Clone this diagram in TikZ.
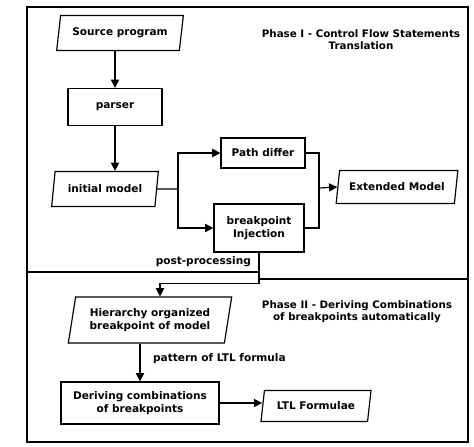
\documentclass[tikz,border=0pt]{standalone}
\usepackage{fontspec}
\setmainfont{DejaVu Sans}
\usetikzlibrary{arrows.meta, shapes.geometric}

\tikzset{
    proc/.style={draw, line width=1pt, rectangle, align=center, inner sep=2pt},
    data/.style={draw, line width=1pt, trapezium, trapezium left angle=75,
        trapezium right angle=105, trapezium stretches body, align=center, inner sep=2pt},
    flow/.style={line width=1pt, -{Triangle[length=7pt, width=7pt]}},
    line/.style={line width=1pt},
    lbl/.style={font=\fontsize{8.8}{10.5}\selectfont\bfseries},
}

\begin{document}
\begin{tikzpicture}[x=0.03cm, y=-0.03cm, font=\fontsize{9}{10.5}\selectfont\bfseries]
    \useasboundingbox (0,0) rectangle (474,446);
    % frames of the two phases
    \draw[line width=0.9pt] (27,7) rectangle (468,442);
    \draw[line width=0.9pt] (27,272) -- (258,272);
    \draw[line width=0.9pt] (258,279) -- (468,279);
    \node[lbl, align=center] (phaseone) at (361,40) {Phase I - Control Flow Statements\\Translation};
    \node[lbl, align=center] (phasetwo) at (357,312) {Phase II - Deriving Combinations\\of breakpoints automatically};

    % phase I
    \node[data, minimum width=3.8cm, minimum height=1.05cm] (src) at (120,33) {Source program};
    \node[proc, minimum width=2.82cm, minimum height=1.11cm] (parser) at (115,107) {parser};
    \node[data, minimum width=3.2cm, minimum height=1.05cm] (init) at (105,189) {initial model};
    \node[proc, minimum width=2.52cm, minimum height=0.9cm] (pdiff) at (263,153) {Path differ};
    \node[proc, minimum width=2.7cm, minimum height=1.44cm] (inject) at (259,228) {breakpoint\\Injection};
    \node[data, minimum width=3.65cm, minimum height=0.99cm] (ext) at (397,187) {Extended Model};
    \coordinate (split) at (178,189);
    \coordinate (merge) at (319,188);

    \draw[flow] (parser.north |- src.south) -- (parser.north);
    \draw[flow] (parser.south) -- (parser.south |- init.north);
    \draw[line] (init.east) -- (split);
    \draw[flow] (split) |- (pdiff.west);
    \draw[flow] (split) |- (inject.west);
    \draw[line] (pdiff.east) -| (merge);
    \draw[line] (inject.east) -| (merge);
    \draw[flow] (merge) -- (ext.west);

    % phase II
    \node[data, minimum width=4.9cm, minimum height=1.38cm] (hier) at (150,320) {Hierarchy organized\\breakpoint of model};
    \node[proc, minimum width=4.74cm, minimum height=1.26cm] (derive) at (140,403) {Deriving combinations\\of breakpoints};
    \node[data, minimum width=3.3cm, minimum height=0.93cm] (ltl) at (316,406) {LTL Formulae};

    \draw[flow] (inject.south) -- ++(0,31) -| ([xshift=0.3cm]hier.north);
    \node[anchor=east] (post) at (255,262) {post-processing};
    \draw[flow] (derive.north |- hier.south) -- (derive.north);
    \node[anchor=west] (pattern) at (149,359) {pattern of LTL formula};
    \draw[flow] (derive.east) -- (derive.east -| ltl.west);
\end{tikzpicture}
\end{document}
